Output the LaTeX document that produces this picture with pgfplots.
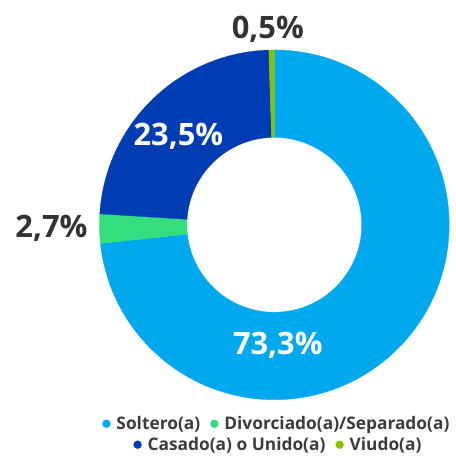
\documentclass[border=0pt]{standalone}
\usepackage{fontspec}
\setmainfont{Open Sans}
\usepackage{pgfplots}
\usepackage{pgfplotstable}
\pgfplotsset{compat=1.18}
\definecolor{slice0}{HTML}{00A9EE}
\definecolor{slice1}{HTML}{33DE7F}
\definecolor{slice2}{HTML}{003CB4}
\definecolor{slice3}{HTML}{84C100}
\definecolor{labdark}{HTML}{333333}
\definecolor{legtext}{HTML}{3C3C3C}
\pgfplotstableread{
label value
Soltero 73.3
Divorciado 2.7
Casado 23.5
Viudo 0.5
}\piedata
\pgfplotsset{
  pieaxis/.style={x=1bp,y=1bp,hide axis,xmin=-274.5,xmax=181.5,ymin=-229,ymax=225,clip=false,
    legend columns=2,
    legend style={draw=none,fill=none,anchor=center,
      font=\fontsize{17.4}{17.4}\selectfont\bfseries,text=legtext,
      /tikz/every even column/.append style={column sep=8bp}},
    legend cell align=left},
  dot/.style={legend image code/.code={\path[draw=none,fill=none] (0bp,-1bp) rectangle (12bp,1bp);\fill[#1,draw=none] (4bp,0bp) circle[radius=4.2bp];}},
}
\begin{document}
\begin{tikzpicture}
\begin{axis}[pieaxis,legend style={at={(axis description cs:0.6075,0.066)}}]
\path (rel axis cs:0,0) rectangle (rel axis cs:1,1);
\def\cum{0}
\pgfplotsforeachungrouped \i in {0,...,3}{%
  \pgfplotstablegetelem{\i}{value}\of\piedata
  \pgfmathsetmacro\a{90-3.6*\cum}%
  \pgfmathsetmacro\newcum{\cum+\pgfplotsretval}%
  \pgfmathsetmacro\b{90-3.6*\newcum}%
  \global\let\cum\newcum
  \edef\temp{\noexpand\fill[slice\i,draw=slice\i,line width=0.3bp] (axis cs:{175*cos(\a)},{175*sin(\a)}) arc[start angle=\a, end angle=\b, radius=175bp] -- (axis cs:{87.5*cos(\b)},{87.5*sin(\b)}) arc[start angle=\b, end angle=\a, radius=87.5bp] -- cycle;}%
  \temp
}
\node[text=labdark,font=\fontsize{31}{31}\selectfont\bfseries] at (axis cs:-6.5,196) {0,5\%};
\node[text=labdark,font=\fontsize{31}{31}\selectfont\bfseries] at (axis cs:-223,-3) {2,7\%};
\node[text=white,font=\fontsize{31}{31}\selectfont\bfseries] at (axis cs:-96,89) {23,5\%};
\node[text=white,font=\fontsize{31}{31}\selectfont\bfseries] at (axis cs:3.5,-121) {73,3\%};
\addlegendimage{dot=slice0}
\addlegendentry{Soltero(a)}
\addlegendimage{dot=slice1}
\addlegendentry{Divorciado(a)/Separado(a)}
\end{axis}
\begin{axis}[pieaxis,legend style={at={(axis description cs:0.611,0.0198)}}]
\addlegendimage{dot=slice2}
\addlegendentry{Casado(a) o Unido(a)}
\addlegendimage{dot=slice3}
\addlegendentry{Viudo(a)}
\end{axis}
\end{tikzpicture}
\end{document}
